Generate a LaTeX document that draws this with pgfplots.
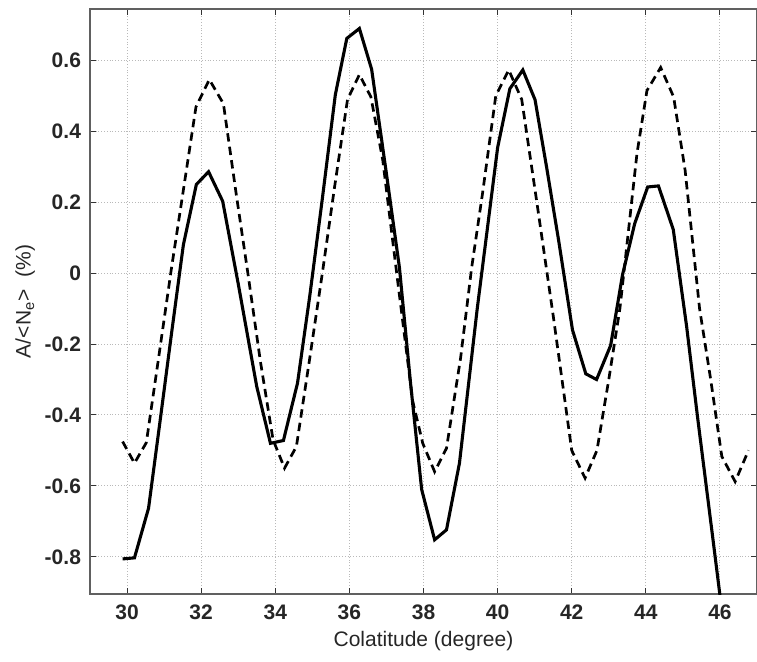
\documentclass[border=0pt]{standalone}
\usepackage{fontspec}
\setmainfont{Liberation Sans}
\usepackage{pgfplots}
\pgfplotsset{compat=1.18}
\begin{document}
\begin{tikzpicture}
\begin{axis}[
    scale only axis,
    width=333.5pt, height=292.5pt,
    xmin=29, xmax=47, ymin=-0.905, ymax=0.745,
    xtick={30,32,34,36,38,40,42,44,46},
    xticklabels={30,32,34,36,38,40,42,44,46},
    ytick={-0.8,-0.6,-0.4,-0.2,0,0.2,0.4,0.6},
    yticklabels={-0.8,-0.6,-0.4,-0.2,0,0.2,0.4,0.6},
    tick label style={font=\bfseries\fontsize{10.5}{12}\selectfont, text=black!85},
    xticklabel style={yshift=-2pt},
    yticklabel style={xshift=-1pt},
    grid=major,
    major grid style={densely dotted, gray!55, line width=0.5pt},
    tick align=inside,
    major tick length=3pt,
    tick style={black!80, line width=0.5pt},
    axis line style={gray!75!black, line width=0.7pt},
    xlabel={Colatitude (degree)},
    ylabel={A/<N\textsubscript{e}>\ \ (\%)},
    label style={font=\fontsize{10.5}{12}\selectfont, text=black!85},
    xlabel style={yshift=1pt},
    ylabel style={at={(axis description cs:-0.097,0.5)}, anchor=center},
]
% solid curve
\addplot[black, line width=1.55pt] coordinates {
(29.88,-0.806) (30.20,-0.803) (30.58,-0.663) (30.90,-0.41) (31.20,-0.17)
(31.52,0.08) (31.87,0.25) (32.20,0.286) (32.58,0.203) (33.00,-0.03)
(33.50,-0.32) (33.87,-0.48) (34.22,-0.472) (34.60,-0.31) (34.93,-0.065)
(35.27,0.21) (35.62,0.503) (35.93,0.662) (36.27,0.69) (36.60,0.575)
(37.00,0.28) (37.35,0.016) (37.65,-0.31) (37.95,-0.61) (38.30,-0.752)
(38.62,-0.724) (38.97,-0.536) (39.45,-0.10) (40.00,0.354) (40.33,0.52)
(40.68,0.573) (41.01,0.489) (41.32,0.30) (41.65,0.09) (42.02,-0.16)
(42.38,-0.284) (42.67,-0.30) (43.05,-0.204) (43.37,-0.005) (43.70,0.14)
(44.05,0.243) (44.34,0.246) (44.74,0.123) (45.10,-0.15) (45.40,-0.41)
(45.75,-0.70) (46.05,-0.95)
};
% dashed curve
\addplot[black, line width=1.35pt, dash pattern=on 4.2pt off 2.6pt] coordinates {
(29.88,-0.475) (30.20,-0.536) (30.52,-0.478) (30.85,-0.24) (31.19,0.008)
(31.47,0.20) (31.86,0.469) (32.22,0.546) (32.60,0.478) (32.95,0.22)
(33.26,0.0) (33.60,-0.25) (33.94,-0.47) (34.25,-0.55) (34.57,-0.489)
(34.93,-0.24) (35.27,0.0) (35.60,0.243) (35.95,0.49) (36.27,0.56)
(36.58,0.497) (36.90,0.319) (37.30,-0.02) (37.71,-0.362) (37.98,-0.48)
(38.30,-0.56) (38.62,-0.494) (39.00,-0.24) (39.30,0.016) (39.60,0.23)
(39.95,0.50) (40.30,0.573) (40.65,0.49) (41.05,0.206) (41.50,-0.12)
(42.00,-0.50) (42.36,-0.578) (42.68,-0.50) (43.00,-0.30) (43.30,-0.10)
(43.76,0.337) (44.03,0.515) (44.40,0.58) (44.75,0.497) (45.06,0.29)
(45.45,-0.10) (45.75,-0.30) (46.05,-0.517) (46.41,-0.588) (46.77,-0.50)
};
\end{axis}
\pgfresetboundingbox
\path ([xshift=-45pt,yshift=-33.5pt]current axis.south west) rectangle ([yshift=4.5pt]current axis.north east);
\end{tikzpicture}
\end{document}
